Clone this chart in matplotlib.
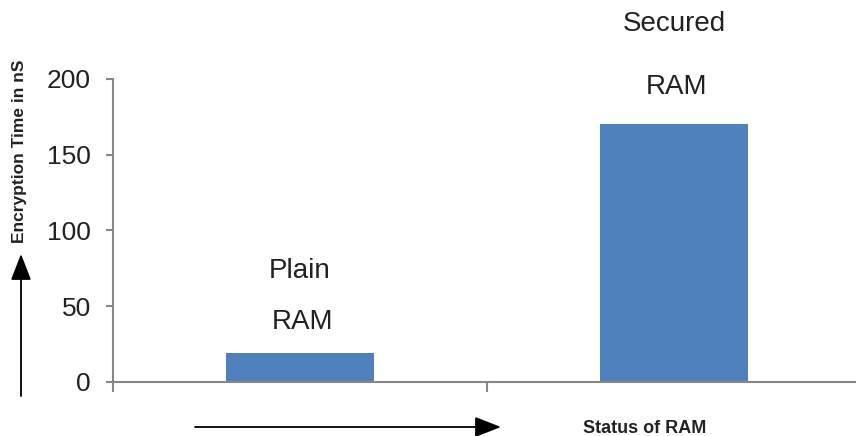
import matplotlib
matplotlib.use("Agg")
import matplotlib.pyplot as plt

plt.rcParams["font.family"] = ["Liberation Sans", "DejaVu Sans"]

categories = ["Plain", "Secured"]
enc_time = [19, 170]
y_ticks = [0, 50, 100, 150, 200]

BAR_COLOR = "#4F81BD"
AXIS_GRAY = "#878787"

fig = plt.figure(figsize=(8.56, 4.36), dpi=100)
ax = fig.add_axes([113 / 856, 54.3 / 436, 748 / 856, 302.7 / 436])

x = list(range(len(categories)))
ax.bar(x, enc_time, width=0.396, color=BAR_COLOR, zorder=2)

ax.set_xlim(-0.5, len(categories) - 0.5)
ax.set_ylim(0, 200)
ax.set_yticks(y_ticks)
ax.tick_params(axis="y", direction="out", length=5, width=1.5, color=AXIS_GRAY,
               labelsize=19, pad=11, labelcolor="#222222")

# category boundaries carry the x ticks, no tick labels
ax.set_xticks([])
ax.set_xticks([i - 0.5 for i in range(len(categories) + 1)], minor=True)
ax.tick_params(axis="x", which="minor", direction="out", length=7, width=1.5,
               color=AXIS_GRAY)

for side in ("top", "right"):
    ax.spines[side].set_visible(False)
for side in ("left", "bottom"):
    ax.spines[side].set_color(AXIS_GRAY)
    ax.spines[side].set_linewidth(1.5)

# two-line labels above each bar (offsets in points above bar top)
label_offsets = [(59, 22), (72, 27)]
for xi, name, val, (off_top, off_bot) in zip(x, categories, enc_time, label_offsets):
    ax.annotate(name, (xi, val), xytext=(0, off_top), textcoords="offset points",
                ha="center", va="center", fontsize=20, color="#222222")
    ax.annotate("RAM", (xi, val), xytext=(2, off_bot), textcoords="offset points",
                ha="center", va="center", fontsize=20, color="#222222")

# axis titles with direction arrows
fig.text(20 / 856, 1 - 151 / 436, "Encryption Time in nS", rotation=90,
         ha="center", va="center", fontsize=12.5, fontweight="bold", color="#222222")
fig.text(645 / 856, 1 - 428 / 436, "Status of RAM", ha="center", va="center",
         fontsize=13, fontweight="bold", color="#222222")

arrow_style = dict(arrowstyle="-|>,head_length=0.9,head_width=0.35", color="black",
                   lw=1.3, shrinkA=0, shrinkB=0, mutation_scale=18)
fig.add_artist(matplotlib.patches.FancyArrowPatch(
    (21 / 856, 1 - 396 / 436), (21 / 856, 1 - 254 / 436),
    transform=fig.transFigure, **arrow_style))
fig.add_artist(matplotlib.patches.FancyArrowPatch(
    (195 / 856, 1 - 427 / 436), (501 / 856, 1 - 427 / 436),
    transform=fig.transFigure, **arrow_style))

fig.savefig("out.png", dpi=100)
